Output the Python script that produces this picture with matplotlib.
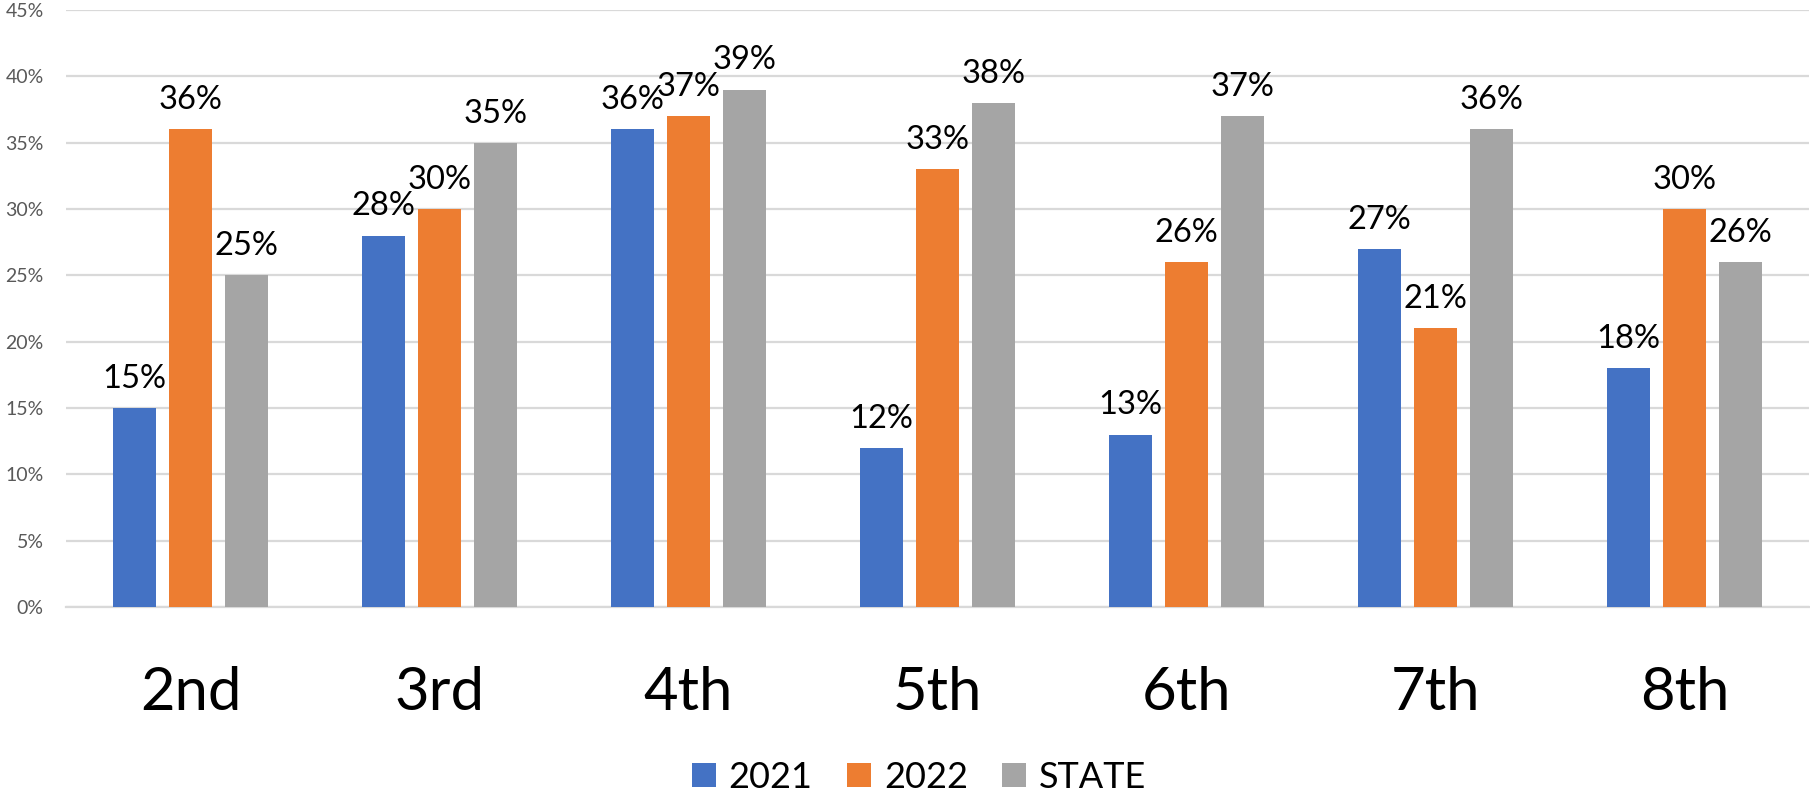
import matplotlib
matplotlib.use("Agg")
import matplotlib.pyplot as plt
from matplotlib.patches import Patch
import numpy as np

plt.rcParams['font.family'] = ['Lato', 'DejaVu Sans']

categories = ["2nd", "3rd", "4th", "5th", "6th", "7th", "8th"]
series_names = ["2021", "2022", "STATE"]
v2021 = [15, 28, 36, 12, 13, 27, 18]
v2022 = [36, 30, 37, 33, 26, 21, 30]
vstate = [25, 35, 39, 38, 37, 36, 26]
yticks = [0, 5, 10, 15, 20, 25, 30, 35, 40, 45]
ytick_labels = [f"{t}%" for t in yticks]

colors = ["#4472C4", "#ED7D31", "#A5A5A5"]

fig = plt.figure(figsize=(18.10, 7.93), dpi=100)
ax = fig.add_axes([66/1810, 186/793, 1743/1810, 597/793])

x = np.arange(len(categories))
width = 0.173
offset = 0.225
for i, (name, vals) in enumerate(zip(series_names, [v2021, v2022, vstate])):
    pos = x + (i - 1) * offset
    bars = ax.bar(pos, vals, width=width, color=colors[i], zorder=3, label=name)
    for xp, v in zip(pos, vals):
        ax.annotate(f"{v}%", xy=(xp, v), xytext=(0, 14.5), textcoords="offset points",
                    ha="center", va="baseline", fontsize=23.5, color="black", zorder=4)

ax.set_xlim(-0.5, len(categories) - 0.5)
ax.set_ylim(0, 45)
ax.set_yticks(yticks)
ax.set_yticklabels(ytick_labels, fontsize=14, color="#595959")
ax.tick_params(axis='y', length=0, pad=16)
ax.set_xticks(x)
ax.set_xticklabels(categories, fontsize=43, color="black")
ax.tick_params(axis='x', length=0, pad=74)
for lbl in ax.get_xticklabels():
    lbl.set_verticalalignment('baseline')

ax.yaxis.grid(True, color="#D9D9D9", linewidth=1.6, zorder=0)
ax.set_axisbelow(True)
for s in ["top", "right", "left"]:
    ax.spines[s].set_visible(False)
ax.spines["bottom"].set_color("#D9D9D9")
ax.spines["bottom"].set_linewidth(1.6)

handles = [Patch(facecolor=c, label=n) for c, n in zip(colors, series_names)]
fig.legend(handles=handles, loc="center", bbox_to_anchor=(919/1810, 16/793), ncol=3,
           frameon=False, fontsize=26, handlelength=0.66, handleheight=0.66,
           handletextpad=0.36, columnspacing=0.95, borderpad=0, borderaxespad=0)

fig.savefig("out.png", dpi=100)
